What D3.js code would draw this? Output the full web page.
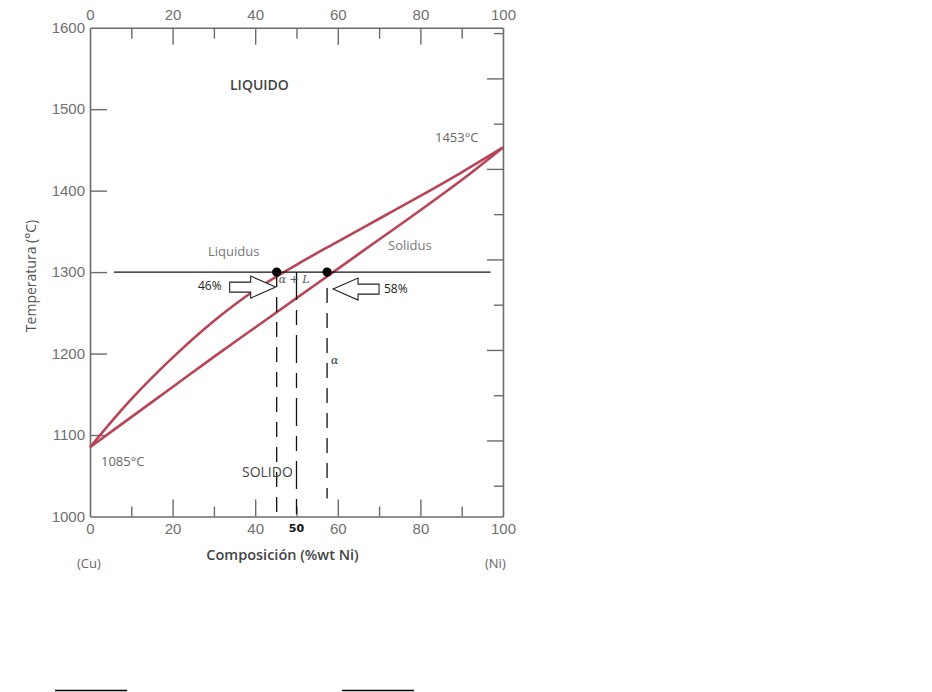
<!DOCTYPE html>
<html>
<head>
<meta charset="utf-8">
<script src="https://cdn.jsdelivr.net/npm/d3@7"></script>
<style>
  body { margin: 0; background: #fff; }
  svg { display: block; }
</style>
</head>
<body>
<svg id="chart" width="932" height="692"></svg>
<script>
// composition (%wt Ni) and temperature (°C)
const liquidusComp = [0, 10, 20, 30, 40, 50, 60, 70, 80, 90, 100];
const liquidusTemp = [1085, 1144, 1195, 1240, 1278, 1309, 1337.5, 1365.5, 1393.5, 1422.5, 1453];
const solidusComp = [0, 10, 20, 30, 40, 50, 60, 70, 80, 90, 100];
const solidusTemp = [1085, 1122, 1159, 1196, 1232, 1268, 1304, 1340, 1376, 1413, 1453];

const tempTicks = [1000, 1100, 1200, 1300, 1400, 1500, 1600];
const compTicks = [0, 10, 20, 30, 40, 50, 60, 70, 80, 90, 100];
const fahrenheitTicks = [1900, 2000, 2100, 2200, 2300, 2400, 2500, 2600, 2700, 2800, 2900];

// tie line at 1300 °C
const tieTemp = 1300;
const tieRange = [5.8, 97];
const tieDots = [45.2, 57.4];
const tieLabels = ["46%", "58%"];
const dashComps = [45.2, 50, 57.4];
const alloyLabel = "50";

const svg = d3.select("#chart");
const width = 932;
const height = 692;
svg.append("rect").attr("width", width).attr("height", height).attr("fill", "#fff");

const margin = { top: 27.7, left: 90, right: 503, bottom: 516.5 };
const x = d3.scaleLinear().domain([0, 100]).range([margin.left, margin.right]);
const y = d3.scaleLinear().domain([1000, 1600]).range([margin.bottom, margin.top]);
const yF = d3.scaleLinear()
  .domain([1000 * 9 / 5 + 32, 1600 * 9 / 5 + 32])
  .range([margin.bottom, margin.top]);

const axisColor = "#6b6b6b";
const tickFont = "'Liberation Sans', Arial, sans-serif";
const labelFont = "'Open Sans', 'DejaVu Sans', sans-serif";

function styleAxis(g) {
  g.select(".domain").attr("stroke", axisColor).attr("stroke-width", 1.6);
  g.selectAll(".tick line").attr("stroke", axisColor).attr("stroke-width", 1.4);
  g.selectAll(".tick text")
    .attr("fill", "#707070")
    .style("font-family", tickFont)
    .style("font-size", "15px");
}

// bottom axis
const bottomAxis = svg.append("g")
  .attr("transform", `translate(0,${margin.bottom})`)
  .call(d3.axisBottom(x).tickValues(compTicks).tickSizeOuter(0).tickSizeInner(-17).tickPadding(7)
    .tickFormat(d => (d % 20 === 0 ? d : "")))
  .call(styleAxis);
bottomAxis.selectAll(".tick line")
  .attr("y2", d => (d === 0 || d === 100 ? 0 : d % 20 === 0 ? -17 : -10));

// top axis
const topAxis = svg.append("g")
  .attr("transform", `translate(0,${margin.top})`)
  .call(d3.axisTop(x).tickValues(compTicks).tickSizeOuter(0).tickSizeInner(-17).tickPadding(8)
    .tickFormat(d => (d % 20 === 0 ? d : "")))
  .call(styleAxis);
topAxis.selectAll(".tick line")
  .attr("y2", d => (d === 0 || d === 100 ? 0 : d % 20 === 0 ? 17 : 11));

// left axis
const leftAxis = svg.append("g")
  .attr("transform", `translate(${margin.left},0)`)
  .call(d3.axisLeft(y).tickValues(tempTicks).tickSizeOuter(0).tickSizeInner(-17).tickPadding(5)
    .tickFormat(d3.format("d")))
  .call(styleAxis);
leftAxis.selectAll(".tick line")
  .attr("x2", d => (d === 1000 || d === 1600 ? 0 : 17));

// right axis (°F ticks, no labels)
const rightAxis = svg.append("g")
  .attr("transform", `translate(${margin.right},0)`)
  .call(d3.axisRight(yF).tickValues(fahrenheitTicks).tickSizeOuter(0).tickFormat(""))
  .call(styleAxis);
rightAxis.selectAll(".tick line")
  .attr("x2", d => (d % 200 === 0 ? -16 : -9));

// liquidus and solidus
const line = d3.line()
  .x(d => x(d[0]))
  .y(d => y(d[1]))
  .curve(d3.curveCatmullRom.alpha(0.5));
const curves = [
  d3.zip(liquidusComp, liquidusTemp),
  d3.zip(solidusComp, solidusTemp),
];
svg.append("g")
  .selectAll("path")
  .data(curves)
  .enter()
  .append("path")
  .attr("d", line)
  .attr("fill", "none")
  .attr("stroke", "#b84457")
  .attr("stroke-width", 2.6);

// tie line
svg.append("line")
  .attr("x1", x(tieRange[0]))
  .attr("x2", x(tieRange[1]))
  .attr("y1", y(tieTemp))
  .attr("y2", y(tieTemp))
  .attr("stroke", "#111")
  .attr("stroke-width", 1.2);

// dashed verticals
svg.append("g")
  .selectAll("line")
  .data(dashComps)
  .enter()
  .append("line")
  .attr("x1", d => x(d))
  .attr("x2", d => x(d))
  .attr("y1", (d, i) => (i === 2 ? y(tieTemp) + 16 : y(tieTemp)))
  .attr("y2", (d, i) => (i === 2 ? y(1022) : margin.bottom))
  .attr("stroke", "#111")
  .attr("stroke-width", 1.3)
  .attr("stroke-dasharray", (d, i) => (i === 1 ? "28,10,15,10" : "15,10"));

svg.append("g")
  .selectAll("circle")
  .data(tieDots)
  .enter()
  .append("circle")
  .attr("cx", d => x(d))
  .attr("cy", y(tieTemp))
  .attr("r", 4.6)
  .attr("fill", "#000");

// outline arrows pointing at the dots
const arrowPath = (dir) => {
  // tip at 0,0; body extends opposite to dir
  const s = dir;
  return `M0,0 L${-s * 25},-11 L${-s * 25},-5 L${-s * 46},-5 L${-s * 46},5 L${-s * 25},5 L${-s * 25},11 Z`;
};
svg.append("path")
  .attr("d", arrowPath(1))
  .attr("transform", `translate(${x(tieDots[0]) - 1},${y(tieTemp) + 15})`)
  .attr("fill", "#fff")
  .attr("stroke", "#222")
  .attr("stroke-width", 1.1);
svg.append("path")
  .attr("d", arrowPath(-1))
  .attr("transform", `translate(${x(tieDots[1]) + 6},${y(tieTemp) + 17})`)
  .attr("fill", "#fff")
  .attr("stroke", "#222")
  .attr("stroke-width", 1.1);

const pctStyle = t => t
  .style("font-family", labelFont)
  .style("font-size", "12px")
  .attr("fill", "#222");
svg.append("text").attr("x", 198).attr("y", 290).text(tieLabels[0]).call(pctStyle);
svg.append("text").attr("x", 384).attr("y", 293).text(tieLabels[1]).call(pctStyle);

// region and curve labels
const labels = [
  { text: "LIQUIDO", x: 230, y: 90, size: 14, weight: 600, color: "#444" },
  { text: "SOLIDO", x: 242, y: 477, size: 14, weight: 400, color: "#444" },
  { text: "Liquidus", x: 208, y: 256, size: 13, weight: 400, color: "#777" },
  { text: "Solidus", x: 388, y: 250, size: 13, weight: 400, color: "#777" },
  { text: "1453°C", x: 435, y: 142, size: 13, weight: 400, color: "#666" },
  { text: "1085°C", x: 101, y: 466, size: 13, weight: 400, color: "#666" },
  { text: "(Cu)", x: 77, y: 568, size: 13, weight: 400, color: "#666" },
  { text: "(Ni)", x: 485, y: 568, size: 13, weight: 400, color: "#666" },
];
svg.append("g")
  .selectAll("text")
  .data(labels)
  .enter()
  .append("text")
  .attr("x", d => d.x)
  .attr("y", d => d.y)
  .attr("fill", d => d.color)
  .style("font-family", labelFont)
  .style("font-size", d => d.size + "px")
  .style("font-weight", d => d.weight)
  .text(d => d.text);

// two-phase and alpha markers
svg.append("text")
  .attr("x", x(tieDots[0]) + 2)
  .attr("y", y(tieTemp) + 11)
  .attr("fill", "#555")
  .style("font-family", "'DejaVu Serif', serif")
  .style("font-style", "italic")
  .style("font-size", "11px")
  .text("α + L");
svg.append("text")
  .attr("x", x(tieDots[1]) + 4)
  .attr("y", 364)
  .attr("fill", "#333")
  .style("font-family", "'DejaVu Serif', serif")
  .style("font-style", "italic")
  .style("font-size", "11px")
  .text("α");

svg.append("text")
  .attr("x", x(50))
  .attr("y", 532)
  .attr("text-anchor", "middle")
  .attr("fill", "#111")
  .style("font-family", "'DejaVu Sans', sans-serif")
  .style("font-weight", "bold")
  .style("font-size", "11px")
  .text(alloyLabel);

// axis titles
svg.append("text")
  .attr("x", (margin.left + margin.right) / 2 - 14)
  .attr("y", 560)
  .attr("text-anchor", "middle")
  .attr("fill", "#444")
  .style("font-family", labelFont)
  .style("font-size", "14.5px")
  .style("font-weight", 600)
  .text("Composición (%wt Ni)");
svg.append("text")
  .attr("transform", `translate(36,276) rotate(-90)`)
  .attr("text-anchor", "middle")
  .attr("fill", "#555")
  .style("font-family", labelFont)
  .style("font-size", "14px")
  .text("Temperatura (°C)");

// short rules at the very bottom
svg.append("g")
  .selectAll("line")
  .data([[55, 127], [342, 414]])
  .enter()
  .append("line")
  .attr("x1", d => d[0])
  .attr("x2", d => d[1])
  .attr("y1", 690.5)
  .attr("y2", 690.5)
  .attr("stroke", "#000")
  .attr("stroke-width", 1.5);
</script>
</body>
</html>
